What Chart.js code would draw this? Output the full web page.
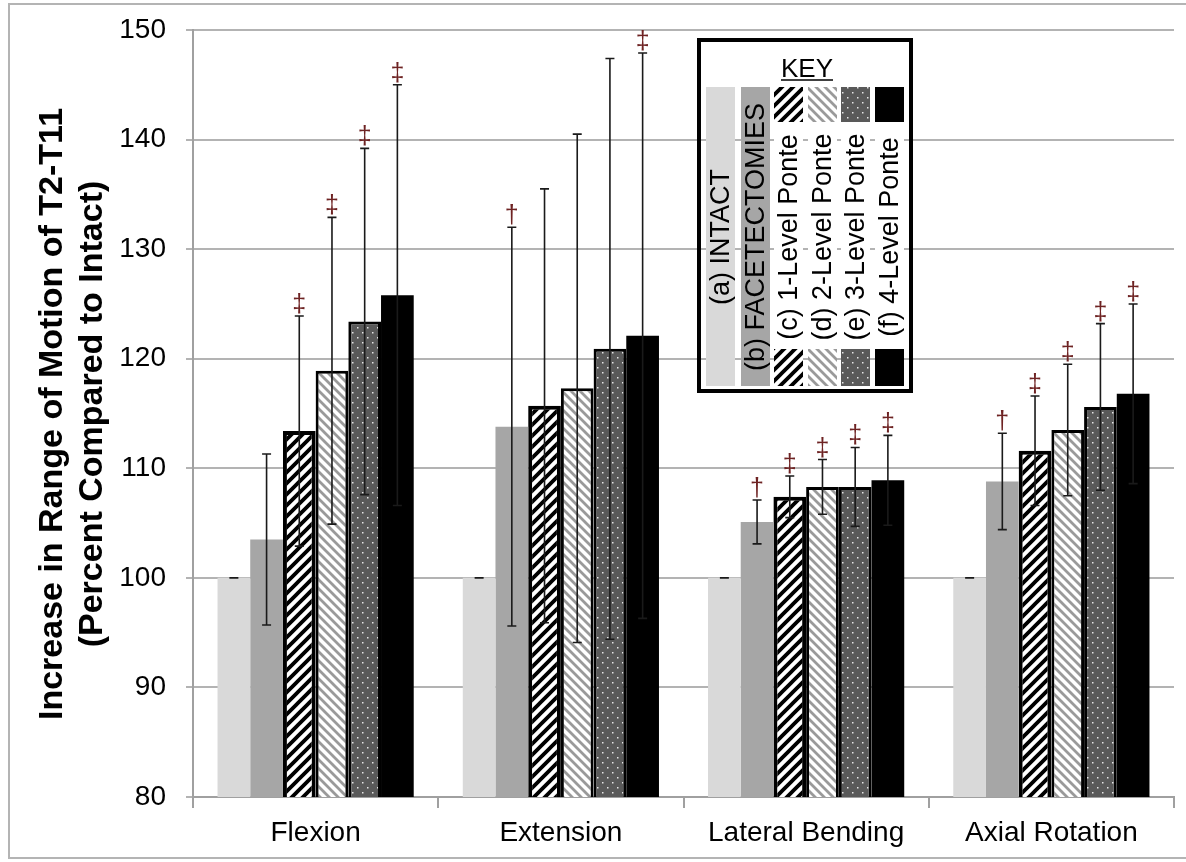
<!DOCTYPE html>
<html>
<head>
<meta charset="utf-8">
<script src="https://cdn.jsdelivr.net/npm/chart.js@4.4.1/dist/chart.umd.min.js"></script>
<style>
  html, body { margin: 0; padding: 0; background: #fff; }
  #wrap { width: 1186px; height: 862px; }
</style>
</head>
<body>
<div id="wrap"><canvas id="c" width="1186" height="862"></canvas></div>
<script>
// ---------- DATA ----------
const categories = ['Flexion', 'Extension', 'Lateral Bending', 'Axial Rotation'];
const seriesLabels = ['(a) INTACT', '(b) FACETECTOMIES', '(c) 1-Level Ponte', '(d) 2-Level Ponte', '(e) 3-Level Ponte', '(f) 4-Level Ponte'];

const intact      = [100, 100, 100, 100];
const intactErr   = [0, 0, 0, 0];
const facet       = [103.5, 113.8, 105.1, 108.8];
const facetErr    = [7.8, 18.2, 2.0, 4.4];
const ponte1      = [113.4, 115.7, 107.4, 111.6];
const ponte1Err   = [10.5, 19.8, 1.9, 5.0];
const ponte2      = [118.9, 117.3, 108.3, 113.5];
const ponte2Err   = [14.0, 23.2, 2.5, 6.0];
const ponte3      = [123.4, 120.9, 108.3, 115.6];
const ponte3Err   = [15.8, 26.5, 3.6, 7.6];
const ponte4      = [125.8, 122.1, 108.9, 116.8];
const ponte4Err   = [19.2, 25.8, 4.1, 8.2];

const intactSig = ['', '', '', ''];
const facetSig  = ['', '\u2020', '\u2020', '\u2020'];
const ponte1Sig = ['\u2021', '', '\u2021', '\u2021'];
const ponte2Sig = ['\u2021', '', '\u2021', '\u2021'];
const ponte3Sig = ['\u2021', '', '\u2021', '\u2021'];
const ponte4Sig = ['\u2021', '\u2021', '\u2021', '\u2021'];

const yTicks = [80, 90, 100, 110, 120, 130, 140, 150];
const yTitle = ['Increase in Range of Motion of T2-T11', '(Percent Compared to Intact)'];
const keyTitle = 'KEY';

// ---------- PATTERNS ----------
function stripePattern(bg, fg, size, width, dir) {
  const c = document.createElement('canvas');
  c.width = size; c.height = size;
  const g = c.getContext('2d');
  g.fillStyle = bg; g.fillRect(0, 0, size, size);
  g.strokeStyle = fg; g.lineWidth = width; g.lineCap = 'square';
  g.beginPath();
  if (dir === '/') {
    g.moveTo(-size, 2 * size); g.lineTo(2 * size, -size);
    g.moveTo(-size, size); g.lineTo(size, -size);
    g.moveTo(0, 2 * size); g.lineTo(2 * size, 0);
  } else {
    g.moveTo(-size, -size); g.lineTo(2 * size, 2 * size);
    g.moveTo(-size, 0); g.lineTo(size, 2 * size);
    g.moveTo(0, -size); g.lineTo(2 * size, size);
  }
  g.stroke();
  return g.createPattern(c, 'repeat');
}
function dotPattern(bg, fg) {
  const c = document.createElement('canvas');
  c.width = 10; c.height = 10;
  const g = c.getContext('2d');
  g.fillStyle = bg; g.fillRect(0, 0, 10, 10);
  g.fillStyle = fg;
  g.fillRect(2, 2, 1.5, 1.5);
  g.fillRect(7, 7, 1.5, 1.5);
  return g.createPattern(c, 'repeat');
}
const patC = stripePattern('#ffffff', '#000000', 11, 3.8, '/');
const patD = stripePattern('#ffffff', '#9a9a9a', 9, 2.8, '\\');
const patE = dotPattern('#595959', '#e6e6e6');

const fills = ['#d9d9d9', '#a6a6a6', patC, patD, patE, '#000000'];
const borderW = [0, 0, 4, 3, 3, 0];

const values = [intact, facet, ponte1, ponte2, ponte3, ponte4];
const errs = [intactErr, facetErr, ponte1Err, ponte2Err, ponte3Err, ponte4Err];
const sigs = [intactSig, facetSig, ponte1Sig, ponte2Sig, ponte3Sig, ponte4Sig];

const datasets = values.map((v, i) => ({
  label: seriesLabels[i],
  data: v,
  backgroundColor: fills[i],
  borderColor: '#000000',
  borderWidth: borderW[i],
  borderSkipped: borderW[i] ? false : 'start',
  categoryPercentage: 0.8,
  barPercentage: 1.0
}));

const FONT = '"Liberation Sans", Arial, sans-serif';

// ---------- PLUGINS ----------
const framePlugin = {
  id: 'frame',
  beforeDraw(chart) {
    const c = chart.ctx;
    c.save();
    c.fillStyle = '#ffffff';
    c.fillRect(0, 0, chart.width, chart.height);
    c.strokeStyle = '#b4b4b4';
    c.lineWidth = 2;
    c.strokeRect(9, 4, 1186, 854);
    c.restore();
  }
};

const errorPlugin = {
  id: 'errbars',
  afterDatasetsDraw(chart) {
    const c = chart.ctx;
    const ys = chart.scales.y;
    c.save();
    chart.data.datasets.forEach((ds, di) => {
      const meta = chart.getDatasetMeta(di);
      meta.data.forEach((bar, i) => {
        const m = values[di][i], e = errs[di][i];
        const x = bar.x;
        const yt = ys.getPixelForValue(m + e);
        const yb = ys.getPixelForValue(m - e);
        c.strokeStyle = '#1a1a1a';
        c.lineWidth = 1.6;
        c.beginPath();
        c.moveTo(x, yt); c.lineTo(x, yb);
        c.moveTo(x - 4.5, yt); c.lineTo(x + 4.5, yt);
        c.moveTo(x - 4.5, yb); c.lineTo(x + 4.5, yb);
        c.stroke();
        const s = sigs[di][i];
        if (s) {
          c.fillStyle = '#6e2323';
          c.font = '25px ' + FONT;
          c.textAlign = 'center';
          c.textBaseline = 'alphabetic';
          c.fillText(s, x, yt - 4);
        }
      });
    });
    c.restore();
  }
};

const titlePlugin = {
  id: 'ytitle',
  afterDraw(chart) {
    const c = chart.ctx;
    c.save();
    c.fillStyle = '#000000';
    c.font = 'bold 34px ' + FONT;
    c.textAlign = 'center';
    c.textBaseline = 'alphabetic';
    const cy = 414;
    [[62, yTitle[0]], [102, yTitle[1]]].forEach(([bx, t]) => {
      c.save();
      c.translate(bx, cy);
      c.rotate(-Math.PI / 2);
      c.fillText(t, 0, 0);
      c.restore();
    });
    c.restore();
  }
};

const keyPlugin = {
  id: 'keybox',
  afterDraw(chart) {
    const c = chart.ctx;
    c.save();
    c.strokeStyle = '#000000';
    c.lineWidth = 4;
    c.strokeRect(699, 40, 212, 351);
    c.fillStyle = '#000000';
    c.font = '26px ' + FONT;
    c.textAlign = 'center';
    c.textBaseline = 'alphabetic';
    c.fillText(keyTitle, 807, 77);
    const kw = c.measureText(keyTitle).width;
    c.lineWidth = 1.5;
    c.beginPath();
    c.moveTo(807 - kw / 2, 80); c.lineTo(807 + kw / 2, 80);
    c.stroke();
    const cols = [706, 741, 774, 808, 841, 875];
    const w = 29, top = 87, bot = 386;
    cols.forEach((x, i) => {
      if (i < 2) {
        c.fillStyle = fills[i];
        c.fillRect(x, top, w, bot - top);
      } else {
        c.fillStyle = '#ffffff';
        c.fillRect(x, top, w, bot - top);
        c.fillStyle = fills[i];
        c.fillRect(x, top, w, 35);
        c.fillRect(x, 349, w, bot - 349);
      }
      c.save();
      c.translate(x + w / 2, 237);
      c.rotate(-Math.PI / 2);
      c.fillStyle = '#000000';
      c.font = '27px ' + FONT;
      c.textAlign = 'center';
      c.textBaseline = 'middle';
      c.fillText(seriesLabels[i], 0, 1);
      c.restore();
    });
    c.restore();
  }
};

// ---------- CHART ----------
new Chart(document.getElementById('c'), {
  type: 'bar',
  data: { labels: categories, datasets },
  options: {
    responsive: false,
    animation: false,
    devicePixelRatio: 1,
    layout: { padding: { left: 0, top: 30, right: 12, bottom: 0 } },
    plugins: { legend: { display: false }, tooltip: { enabled: false }, title: { display: false } },
    scales: {
      x: {
        afterFit(s) { s.height = 65; s.paddingLeft = 0; s.paddingRight = 0; },
        grid: { offset: true, drawOnChartArea: false, drawTicks: true, tickLength: 11, color: '#a0a0a0', lineWidth: 2 },
        border: { color: '#a0a0a0', width: 2 },
        ticks: { color: '#000000', font: { family: FONT, size: 28 }, padding: 8 }
      },
      y: {
        min: 80, max: 150,
        afterFit(s) { s.width = 193; s.paddingTop = 0; s.paddingBottom = 0; },
        afterBuildTicks(s) { s.ticks = yTicks.map(v => ({ value: v })); },
        grid: { color: '#b3b3b3', lineWidth: 2, tickLength: 7 },
        border: { color: '#a0a0a0', width: 2 },
        ticks: { color: '#000000', font: { family: FONT, size: 28 }, padding: 20 }
      }
    }
  },
  plugins: [framePlugin, errorPlugin, titlePlugin, keyPlugin]
});
</script>
</body>
</html>
